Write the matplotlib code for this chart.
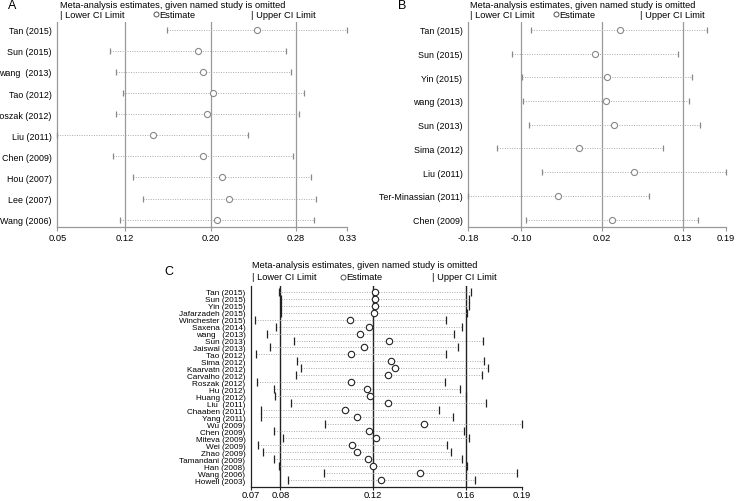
import numpy as np
import matplotlib
matplotlib.use("Agg")
from matplotlib import pyplot as plt
from matplotlib.lines import Line2D

FONT = ['Liberation Sans', 'DejaVu Sans']
plt.rcParams['font.family'] = FONT

# ---- panel A ----
studies_a = ["Tan (2015)", "Sun (2015)", "wang  (2013)", "Tao (2012)", "Roszak (2012)",
             "Liu (2011)", "Chen (2009)", "Hou (2007)", "Lee (2007)", "Wang (2006)"]
lower_a = [0.1600, 0.1050, 0.1105, 0.1175, 0.1105, 0.0545, 0.1082, 0.1268, 0.1364, 0.1149]
est_a   = [0.2462, 0.1891, 0.1942, 0.2041, 0.1980, 0.1460, 0.1942, 0.2121, 0.2191, 0.2079]
upper_a = [0.3325, 0.2735, 0.2783, 0.2913, 0.2859, 0.2376, 0.2808, 0.2974, 0.3022, 0.3009]
ticks_a = [0.0545, 0.1194, 0.2014, 0.2834, 0.3325]
ticklabels_a = ["0.05", "0.12", "0.20", "0.28", "0.33"]

# ---- panel B ----
studies_b = ["Tan (2015)", "Sun (2015)", "Yin (2015)", "wang (2013)", "Sun (2013)",
             "Sima (2012)", "Liu (2011)", "Ter-Minassian (2011)", "Chen (2009)"]
lower_b = [-0.0852, -0.1131, -0.0982, -0.0967, -0.0881, -0.1352, -0.0693, -0.1766, -0.0924]
est_b   = [0.0426, 0.0069, 0.0242, 0.0228, 0.0348, -0.0158, 0.0637, -0.0466, 0.0319]
upper_b = [0.1692, 0.1268, 0.1471, 0.1423, 0.1582, 0.1047, 0.1958, 0.0845, 0.1557]
ticks_b = [-0.1766, -0.100, 0.017, 0.134, 0.1958]
ticklabels_b = ["-0.18", "-0.10", "0.02", "0.13", "0.19"]

# ---- panel C ----
studies_c = ["Tan (2015)", "Sun (2015)", "Yin (2015)", "Jafarzadeh (2015)", "Winchester (2015)",
             "Saxena (2014)", "wang   (2013)", "Sun (2013)", "Jaiswal (2013)", "Tao (2012)",
             "Sima (2012)", "Kaarvatn (2012)", "Carvalho (2012)", "Roszak (2012)", "Hu (2012)",
             "Huang (2012)", "Liu  (2011)", "Chaaben (2011)", "Yang (2011)", "Wu (2009)",
             "Chen (2009)", "Miteva (2009)", "Wei (2009)", "Zhao (2009)", "Tamandani (2009)",
             "Han (2008)", "Wang (2006)", "Howell (2003)"]
lower_c = [0.0811, 0.0817, 0.0817, 0.0817, 0.0703, 0.0795, 0.0756, 0.0875, 0.0771, 0.0710,
           0.0886, 0.0904, 0.0882, 0.0712, 0.0786, 0.0793, 0.0860, 0.0731, 0.0731, 0.1010,
           0.0789, 0.0828, 0.0717, 0.0740, 0.0789, 0.0809, 0.1004, 0.0847]
est_c   = [0.1230, 0.1230, 0.1229, 0.1224, 0.1120, 0.1200, 0.1163, 0.1287, 0.1181, 0.1123,
           0.1297, 0.1313, 0.1285, 0.1123, 0.1193, 0.1207, 0.1285, 0.1098, 0.1149, 0.1440,
           0.1201, 0.1233, 0.1129, 0.1149, 0.1198, 0.1217, 0.1426, 0.1255]
upper_c = [0.1646, 0.1640, 0.1638, 0.1629, 0.1537, 0.1606, 0.1572, 0.1699, 0.1588, 0.1537,
           0.1703, 0.1721, 0.1693, 0.1532, 0.1598, 0.1624, 0.1711, 0.1508, 0.1568, 0.1869,
           0.1615, 0.1638, 0.1540, 0.1560, 0.1608, 0.1627, 0.1849, 0.1663]
ticks_c = [0.0687, 0.0815, 0.1220, 0.1625, 0.1869]
ticklabels_c = ["0.07", "0.08", "0.12", "0.16", "0.19"]

W, H = 736, 502
fig = plt.figure(figsize=(W / 100, H / 100), dpi=100)


def px_text(x, y, s, size=6.7, **kw):
    fig.text(x / W, 1 - y / H, s, fontsize=size, va='center', family=FONT, **kw)


def legend_row(x0, xe, xu, y, title_y):
    px_text(x0, title_y, "Meta-analysis estimates, given named study is omitted")
    px_text(x0, y, "| Lower CI Limit")
    fig.add_artist(Line2D([(xe + 3) / W], [1 - y / H], marker='o', ms=3.6, mfc='white',
                          mec='#555555', mew=0.7, ls='none', transform=fig.transFigure))
    px_text(xe + 6, y, "Estimate")
    px_text(xu, y, "| Upper CI Limit")


def draw_panel(rect, labels, lo, es, up, ticks, tlabels, ylim, dark=False, lsize=6.4, xpad=1):
    ax = fig.add_axes(rect)
    y = np.arange(len(labels))
    line_c = '#222222' if dark else '#999999'
    mark_c = '#222222' if dark else '#888888'
    for v in ticks[1:4]:
        ax.axvline(v, color=line_c, lw=1.0 if dark else 0.9, zorder=1)
    ax.hlines(y, lo, up, color='#aaaaaa', lw=0.7, linestyles=(0, (1, 1.5)), zorder=2)
    ax.plot(lo, y, ls='none', marker='|', ms=5.5 if dark else 4.5, mec=mark_c, mew=0.9,
            clip_on=False, zorder=3)
    ax.plot(up, y, ls='none', marker='|', ms=5.5 if dark else 4.5, mec=mark_c, mew=0.9,
            clip_on=False, zorder=3)
    ax.plot(es, y, ls='none', marker='o', ms=4.6 if dark else 4.4, mfc='white', mec=mark_c,
            mew=0.8, clip_on=False, zorder=4)
    ax.set_xlim(ticks[0], ticks[-1])
    ax.set_ylim(ylim)
    ax.set_yticks(y)
    ax.set_yticklabels(labels, fontsize=lsize)
    ax.set_xticks(ticks)
    ax.set_xticklabels(tlabels, fontsize=6.7)
    ax.tick_params(axis='y', length=0, pad=4)
    ax.tick_params(axis='x', length=3 if not dark else 2, width=0.8, color=line_c, pad=xpad)
    for side in ['top', 'right']:
        ax.spines[side].set_visible(False)
    for side in ['left', 'bottom']:
        ax.spines[side].set_color(line_c)
        ax.spines[side].set_linewidth(0.9)
    return ax


draw_panel([57.3 / W, (H - 228.3) / H, 290 / W, 205.6 / H], studies_a, lower_a, est_a, upper_a,
           ticks_a, ticklabels_a, (9.36, -0.38))
draw_panel([468 / W, (H - 228.3) / H, 257.7 / W, 205.6 / H], studies_b, lower_b, est_b, upper_b,
           ticks_b, ticklabels_b, (8.32, -0.34))
draw_panel([251 / W, (H - 488) / H, 271 / W, 201.3 / H], studies_c, lower_c, est_c, upper_c,
           ticks_c, ticklabels_c, (28.0, -0.86), dark=True, lsize=5.9, xpad=0)

px_text(8, 6, "A", size=9)
legend_row(60, 153, 251, 15, 5)

px_text(398, 6, "B", size=9)
legend_row(470, 553, 640, 15, 5)

px_text(164, 272, "C", size=9)
legend_row(252, 340, 432, 278, 266)

fig.savefig("out.png", dpi=100)
